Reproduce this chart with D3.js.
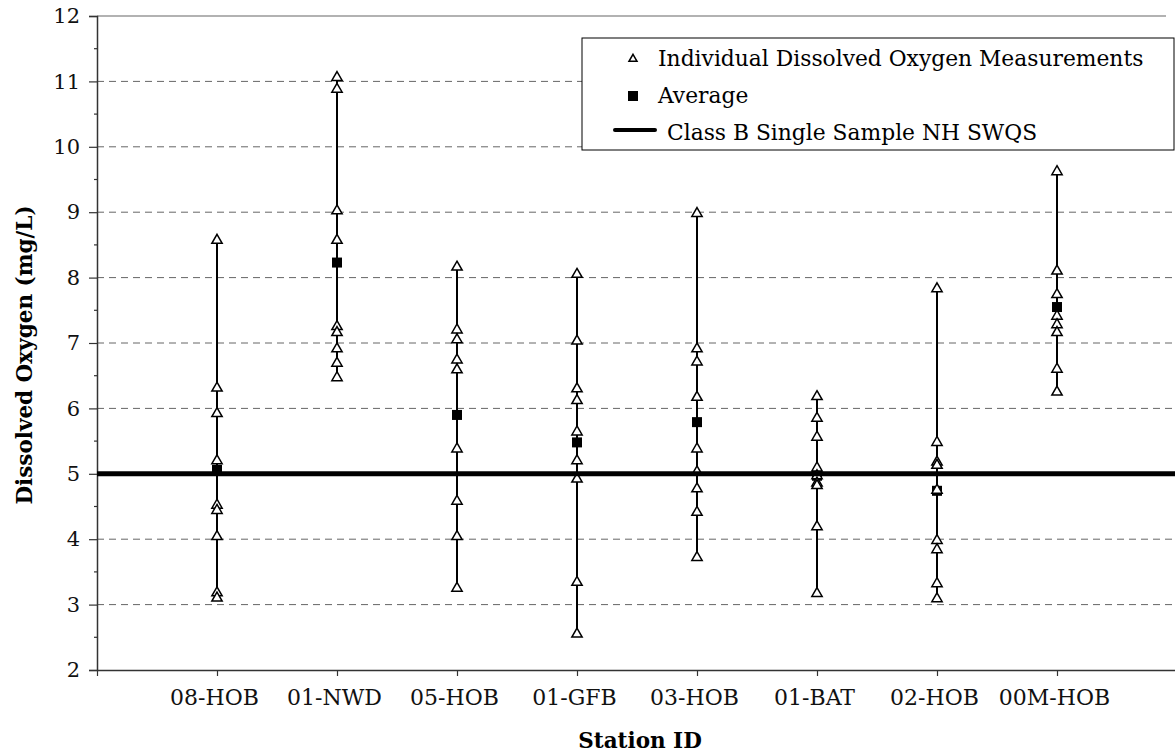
<!DOCTYPE html>
<html>
<head>
<meta charset="utf-8">
<script src="https://cdn.jsdelivr.net/npm/d3@7"></script>
<style>
  body { margin: 0; background: #fff; }
  svg { display: block; font-family: 'DejaVu Serif', 'Liberation Serif', serif; }
</style>
</head>
<body>
<div id="chart"></div>
<script>
// Station IDs along the x axis
const stations = ['08-HOB', '01-NWD', '05-HOB', '01-GFB', '03-HOB', '01-BAT', '02-HOB', '00M-HOB']

// Individual dissolved oxygen readings (mg/L), one list per station
const measurements = [
    [8.57, 6.31, 5.92, 5.20, 4.52, 4.44, 4.04, 3.18, 3.10],
    [11.06, 10.88, 9.02, 8.57, 7.25, 7.16, 6.91, 6.69, 6.47],
    [8.16, 7.20, 7.05, 6.74, 6.59, 5.38, 4.58, 4.04, 3.25],
    [8.05, 7.03, 6.30, 6.12, 5.64, 5.20, 4.92, 3.34, 2.55],
    [8.98, 6.91, 6.71, 6.17, 5.38, 5.03, 4.77, 4.41, 3.72],
    [6.18, 5.85, 5.56, 5.09, 4.97, 4.86, 4.82, 4.19, 3.17],
    [7.83, 5.48, 5.18, 5.13, 4.75, 3.98, 3.84, 3.32, 3.09],
    [9.62, 8.10, 7.74, 7.41, 7.28, 7.16, 6.60, 6.25]
]

const averages = [5.06, 8.23, 5.90, 5.48, 5.79, 4.97, 4.74, 7.55]

const standardValue = 5   // Class B single sample NH SWQS
const yTicks = [2, 3, 4, 5, 6, 7, 8, 9, 10, 11, 12]
const gridValues = [3, 4, 5, 6, 7, 8, 9, 10, 11]
const legendLabels = ['Individual Dissolved Oxygen Measurements', 'Average', 'Class B Single Sample NH SWQS']

const cfg = {
    w: 1175,
    h: 752,
    left: 97,
    right: 1177,
    top: 16,
    bottom: 670
}

const svg = d3.select('#chart')
    .append('svg')
    .attr('width', cfg.w)
    .attr('height', cfg.h)

const x = d3.scaleLinear()
    .domain([0, stations.length + 1])
    .range([cfg.left, cfg.right])

const y = d3.scaleLinear()
    .domain([2, 12])
    .range([cfg.bottom, cfg.top])

// dashed gridlines
svg.append('g')
    .selectAll('line')
    .data(gridValues).enter()
    .append('line')
    .attr('x1', cfg.left)
    .attr('x2', cfg.w)
    .attr('y1', d => y(d))
    .attr('y2', d => y(d))
    .attr('stroke', '#666')
    .attr('stroke-width', 1)
    .attr('stroke-dasharray', '7,5')

// top border
svg.append('line')
    .attr('x1', cfg.left).attr('x2', 1166)
    .attr('y1', y(12)).attr('y2', y(12))
    .attr('stroke', '#999')
    .attr('stroke-width', 1.5)

// Y axis
const yAxis = svg.append('g')
    .attr('transform', `translate(${cfg.left}, 0)`)
    .call(d3.axisLeft(y)
        .tickValues(yTicks)
        .tickSize(8)
        .tickPadding(9)
        .tickFormat(d3.format('d'))
    )
yAxis.select('.domain').attr('stroke', '#333').attr('stroke-width', 1.5)
yAxis.selectAll('.tick line').attr('stroke', '#333').attr('stroke-width', 1.2)
yAxis.selectAll('text')
    .attr('font-family', 'DejaVu Serif')
    .attr('font-size', 21)
    .attr('fill', '#111')

// minor ticks at the half units
svg.append('g')
    .selectAll('line')
    .data(d3.range(2.5, 12, 1)).enter()
    .append('line')
    .attr('x1', cfg.left - 3)
    .attr('x2', cfg.left)
    .attr('y1', d => y(d))
    .attr('y2', d => y(d))
    .attr('stroke', '#333')
    .attr('stroke-width', 1.2)

// X axis
const xAxis = svg.append('g')
    .attr('transform', `translate(0, ${cfg.bottom})`)
    .call(d3.axisBottom(x)
        .tickValues(d3.range(0, stations.length + 1))
        .tickSize(6)
        .tickSizeOuter(0)
        .tickPadding(13)
        .tickFormat(d => stations[d - 1] || '')
    )
xAxis.select('.domain').attr('stroke', '#333').attr('stroke-width', 1.5)
xAxis.selectAll('.tick line').attr('stroke', '#333').attr('stroke-width', 1.2)
xAxis.selectAll('text')
    .attr('font-family', 'DejaVu Serif')
    .attr('font-size', 22)
    .attr('fill', '#111')
    .attr('dx', -3)

// axis titles
svg.append('text')
    .attr('x', 640)
    .attr('y', 748)
    .attr('text-anchor', 'middle')
    .attr('font-weight', 'bold')
    .attr('font-size', 21.5)
    .text('Station ID')

svg.append('text')
    .attr('transform', `translate(32, 355) rotate(-90)`)
    .attr('text-anchor', 'middle')
    .attr('font-weight', 'bold')
    .attr('font-size', 21.5)
    .text('Dissolved Oxygen (mg/L)')

// min-max range lines
svg.append('g')
    .selectAll('line')
    .data(measurements).enter()
    .append('line')
    .attr('x1', (d, i) => x(i + 1))
    .attr('x2', (d, i) => x(i + 1))
    .attr('y1', d => y(d3.min(d)))
    .attr('y2', d => y(d3.max(d)))
    .attr('stroke', '#000')
    .attr('stroke-width', 2)

// averages (drawn under the triangles, as in the original)
svg.append('g')
    .selectAll('rect')
    .data(averages).enter()
    .append('rect')
    .attr('x', (d, i) => x(i + 1) - 5)
    .attr('y', d => y(d) - 5)
    .attr('width', 10)
    .attr('height', 10)
    .attr('fill', '#000')

const triangle = d3.symbol().type(d3.symbolTriangle).size(46)

// individual measurements
measurements.forEach((values, idx) => {
    svg.append('g')
        .selectAll('path')
        .data(values).enter()
        .append('path')
        .attr('d', triangle)
        .attr('transform', d => `translate(${x(idx + 1)}, ${y(d)})`)
        .attr('fill', '#fff')
        .attr('stroke', '#000')
        .attr('stroke-width', 1.5)
})

// standard line
svg.append('line')
    .attr('x1', cfg.left)
    .attr('x2', cfg.w)
    .attr('y1', y(standardValue))
    .attr('y2', y(standardValue))
    .attr('stroke', '#000')
    .attr('stroke-width', 5)

// legend
const legend = svg.append('g').attr('transform', 'translate(582, 38)')
legend.append('rect')
    .attr('width', 592)
    .attr('height', 112)
    .attr('fill', '#fff')
    .attr('stroke', '#000')
    .attr('stroke-width', 1)

legend.append('path')
    .attr('d', d3.symbol().type(d3.symbolTriangle).size(28))
    .attr('transform', 'translate(51, 21)')
    .attr('fill', '#fff')
    .attr('stroke', '#000')
    .attr('stroke-width', 1.5)

legend.append('rect')
    .attr('x', 46).attr('y', 53)
    .attr('width', 10).attr('height', 10)
    .attr('fill', '#000')

legend.append('line')
    .attr('x1', 33).attr('x2', 73)
    .attr('y1', 92).attr('y2', 92)
    .attr('stroke', '#000')
    .attr('stroke-width', 4)
    .attr('stroke-linecap', 'round')

legend.selectAll('.label')
    .data(legendLabels).enter()
    .append('text')
    .attr('class', 'label')
    .attr('x', (d, i) => i === 2 ? 85 : 76)
    .attr('y', (d, i) => 28 + i * 37)
    .attr('font-size', 21.8)
    .text(d => d)
</script>
</body>
</html>
